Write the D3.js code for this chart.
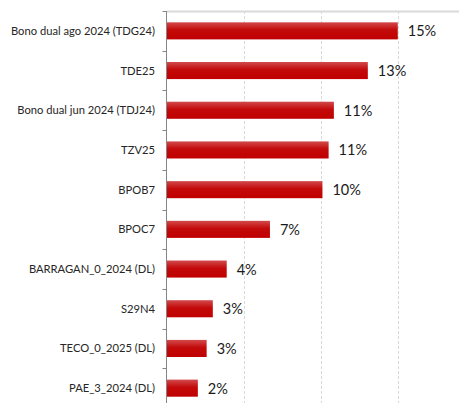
<!DOCTYPE html>
<html>
<head>
<meta charset="utf-8">
<script src="https://cdn.jsdelivr.net/npm/d3@7"></script>
<style>
  body { margin: 0; background: #fff; }
  svg { display: block; }
</style>
</head>
<body>
<div id="chart"></div>
<script>
// data
const categories = ["Bono dual ago 2024 (TDG24)", "TDE25", "Bono dual jun 2024 (TDJ24)", "TZV25", "BPOB7",
  "BPOC7", "BARRAGAN_0_2024 (DL)", "S29N4", "TECO_0_2025 (DL)", "PAE_3_2024 (DL)"];
const values = [14.98, 13.04, 10.84, 10.5, 10.1, 6.7, 3.9, 3.0, 2.6, 2.03];
const valueLabels = ["15%", "13%", "11%", "11%", "10%", "7%", "4%", "3%", "3%", "2%"];
const gridTicks = [5, 10, 15, 20];

const width = 459, height = 403;
const margin = {top: 11, left: 166.5};
const plotBottom = 408; // plot runs past the bottom of the picture

const svg = d3.select('#chart').append('svg')
  .attr('width', width)
  .attr('height', height);

const defs = svg.append('defs');
const grad = defs.append('linearGradient')
  .attr('id', 'barGrad')
  .attr('x1', 0).attr('y1', 0).attr('x2', 0).attr('y2', 1);
grad.append('stop').attr('offset', '0%').attr('stop-color', '#d24a4c');
grad.append('stop').attr('offset', '45%').attr('stop-color', '#c30a0a');
grad.append('stop').attr('offset', '100%').attr('stop-color', '#c00000');

const x = d3.scaleLinear()
  .domain([0, 20])
  .range([margin.left, margin.left + 4 * 77.2]);

const y = d3.scaleBand()
  .domain(categories)
  .range([margin.top, plotBottom])
  .paddingInner(0.57)
  .paddingOuter(0.285);

// top border
svg.append('line')
  .attr('x1', margin.left).attr('x2', width)
  .attr('y1', margin.top + 0.5).attr('y2', margin.top + 0.5)
  .attr('stroke', '#d9d9d9')
  .attr('stroke-width', 2);

// dashed vertical gridlines
svg.append('g')
  .selectAll('line')
  .data(gridTicks)
  .join('line')
  .attr('x1', d => Math.round(x(d)) + 0.5)
  .attr('x2', d => Math.round(x(d)) + 0.5)
  .attr('y1', margin.top)
  .attr('y2', plotBottom)
  .attr('stroke', '#d9d9d9')
  .attr('stroke-dasharray', '3,2');

// bars
svg.append('g')
  .selectAll('rect')
  .data(categories)
  .join('rect')
  .attr('x', x(0))
  .attr('y', d => y(d))
  .attr('width', (d, i) => x(values[i]) - x(0))
  .attr('height', y.bandwidth())
  .attr('fill', 'url(#barGrad)');

// category axis with ticks at band boundaries
const axis = svg.append('g');
axis.append('line')
  .attr('x1', margin.left).attr('x2', margin.left)
  .attr('y1', margin.top).attr('y2', plotBottom)
  .attr('stroke', '#868686');
axis.selectAll('.tick')
  .data(d3.range(categories.length + 1))
  .join('line')
  .attr('class', 'tick')
  .attr('x1', margin.left - 4).attr('x2', margin.left)
  .attr('y1', i => Math.round(margin.top + i * y.step()) + 0.5)
  .attr('y2', i => Math.round(margin.top + i * y.step()) + 0.5)
  .attr('stroke', '#868686');

axis.selectAll('text')
  .data(categories)
  .join('text')
  .attr('x', 155)
  .attr('y', d => y(d) + y.bandwidth() / 2 + 4)
  .attr('text-anchor', 'end')
  .attr('font-family', 'Lato, "Open Sans", sans-serif')
  .attr('font-size', '11.2px')
  .attr('fill', '#262626')
  .text(d => d);

// value labels
svg.append('g')
  .selectAll('text')
  .data(categories)
  .join('text')
  .attr('x', (d, i) => x(values[i]) + 10)
  .attr('y', d => y(d) + y.bandwidth() / 2 + 5.5)
  .attr('font-family', 'Lato, "Open Sans", sans-serif')
  .attr('font-size', '14.5px')
  .attr('fill', '#1a1a1a')
  .text((d, i) => valueLabels[i]);
</script>
</body>
</html>
